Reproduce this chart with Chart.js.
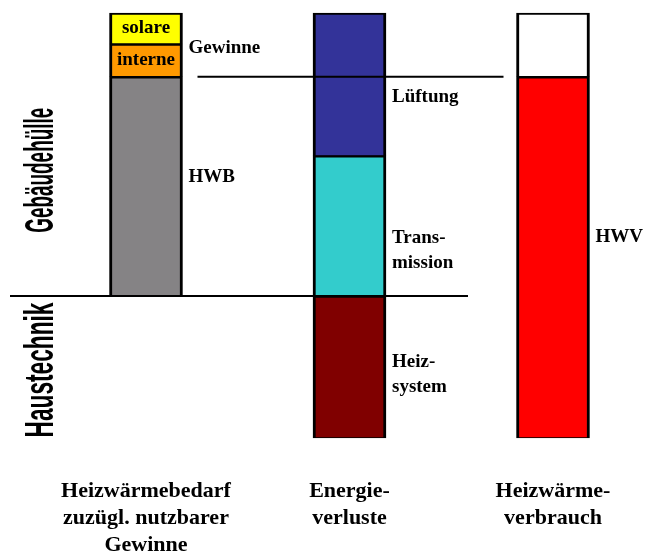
<!DOCTYPE html>
<html lang="de">
<head>
<meta charset="UTF-8">
<script src="https://cdn.jsdelivr.net/npm/chart.js@4.4.1/dist/chart.umd.min.js"></script>
<title>Heizwärmebedarf</title>
<style>
  body { margin: 0; background: #fff; }
</style>
</head>
<body>
<canvas id="myChart" width="648" height="556"></canvas>
<script>
// column labels (x axis)
const categories = [
  ['Heizwärmebedarf', 'zuzügl. nutzbarer', 'Gewinne'],
  ['Energie-', 'verluste'],
  ['Heizwärme-', 'verbrauch']
];

// floating segments [from, to] in % of the total, one slot per column
const hwb = [[33.4, 85], null, null];
const interne = [[85, 92.7], null, null];
const solare = [[92.7, 100], null, null];
const heizsystem = [null, [0, 33.4], null];
const transmission = [null, [33.4, 66.4], null];
const lueftung = [null, [66.4, 100], null];
const hwv = [null, null, [0, 85]];
const rest = [null, null, [85, 100]];

// texts next to the bars: [text lines, column, y value]
const sideLabels = [
  [['Gewinne'], 0, 91.8],
  [['HWB'], 0, 61.5],
  [['Lüftung'], 1, 80.2],
  [['Trans-', 'mission'], 1, 44],
  [['Heiz-', 'system'], 1, 15],
  [['HWV'], 2, 47.2]
];
const zoneLabels = [['Gebäudehülle', 63], ['Haustechnik', 16]];

const BAR_W = 73;
const serif = '"Liberation Serif", "Times New Roman", serif';

function seg(label, data, color) {
  return {
    label: label,
    data: data,
    backgroundColor: color,
    borderColor: '#000',
    borderWidth: { top: 2, bottom: 1, left: 3, right: 3 },
    borderSkipped: false,
    barThickness: BAR_W,
    grouped: false,
    clip: false
  };
}

const overlay = {
  id: 'overlay',
  afterDatasetsDraw(chart) {
    const ctx = chart.ctx;
    const xs = chart.scales.x, ys = chart.scales.y;
    const left = i => xs.getPixelForValue(i) - BAR_W / 2;
    const right = i => xs.getPixelForValue(i) + BAR_W / 2;
    ctx.save();

    // system boundaries
    ctx.strokeStyle = '#000';
    ctx.lineWidth = 2;
    let yy = ys.getPixelForValue(hwb[0][1]);
    ctx.beginPath(); ctx.moveTo(right(0) + 15, yy); ctx.lineTo(left(2) - 13, yy); ctx.stroke();
    yy = ys.getPixelForValue(heizsystem[1][1]);
    ctx.beginPath(); ctx.moveTo(10, yy); ctx.lineTo(right(1) + 82, yy); ctx.stroke();

    // labels inside the gain segments
    ctx.fillStyle = '#000';
    ctx.font = 'bold 19px ' + serif;
    ctx.textAlign = 'center';
    ctx.textBaseline = 'middle';
    const cx = xs.getPixelForValue(0);
    ctx.fillText('solare', cx, ys.getPixelForValue((solare[0][0] + solare[0][1]) / 2));
    ctx.fillText('interne', cx, ys.getPixelForValue((interne[0][0] + interne[0][1]) / 2));

    // side labels
    ctx.textAlign = 'left';
    sideLabels.forEach(([lines, col, v]) => {
      const y0 = ys.getPixelForValue(v) - (lines.length - 1) * 25 / 2;
      lines.forEach((t, k) => ctx.fillText(t, right(col) + 6, y0 + k * 25));
    });

    // rotated zone names, squeezed like the original
    zoneLabels.forEach(([t, v]) => {
      ctx.save();
      ctx.translate(42, ys.getPixelForValue(v));
      ctx.rotate(-Math.PI / 2);
      ctx.font = 'bold 40px "Liberation Sans", Arial, sans-serif';
      const w = ctx.measureText(t).width;
      const len = t === 'Haustechnik' ? 135 : 125;
      ctx.scale(len / w, 1);
      ctx.textAlign = 'center';
      ctx.textBaseline = 'middle';
      ctx.fillText(t, 0, 0);
      ctx.restore();
    });
    ctx.restore();
  }
};

Chart.defaults.color = '#000';

new Chart(document.getElementById('myChart'), {
  type: 'bar',
  data: {
    labels: categories,
    datasets: [
      seg('HWB', hwb, '#858385'),
      seg('interne', interne, '#ff9900'),
      seg('solare', solare, '#ffff00'),
      seg('Heizsystem', heizsystem, '#800000'),
      seg('Transmission', transmission, '#33cccc'),
      seg('Lüftung', lueftung, '#333399'),
      seg('HWV', hwv, '#ff0000'),
      seg('Rest', rest, '#ffffff')
    ]
  },
  plugins: [overlay],
  options: {
    responsive: false,
    animation: false,
    layout: { padding: { top: 13, left: 146, right: 95, bottom: 0 } },
    plugins: { legend: { display: false }, tooltip: { enabled: false } },
    scales: {
      x: {
        offset: false,
        grid: { display: false },
        border: { display: false },
        afterFit: (scale) => { scale.height = 118; },
        ticks: {
          autoSkip: false,
          maxRotation: 0,
          padding: 32,
          font: { family: serif, size: 22, weight: 'bold', lineHeight: '27px' }
        }
      },
      y: { display: false, min: 0, max: 100 }
    }
  }
});
</script>
</body>
</html>
